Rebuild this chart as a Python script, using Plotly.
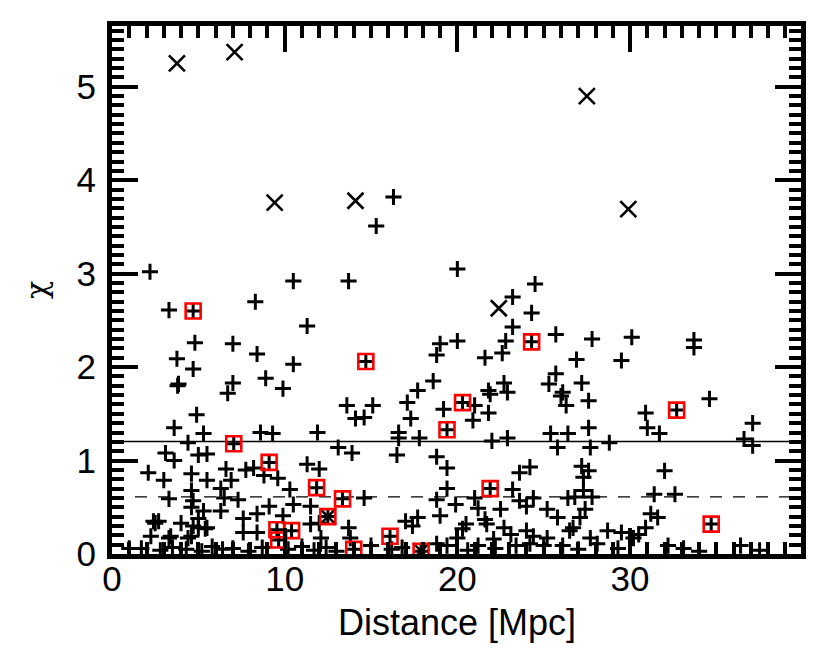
import plotly.graph_objects as go

# "+" markers (Distance [Mpc], chi)
plus_x = [2.2, 3.3, 8.3, 10.5, 11.3, 13.7, 15.3, 16.3, 20.0, 24.5, 23.2, 24.3, 23.2, 25.7,
          4.8, 7.0, 8.4, 3.76, 4.7, 10.5, 3.8, 3.85, 7.0, 6.7, 8.9, 9.9,
          19.0, 20.0, 18.8, 21.6, 22.6, 22.8, 18.6, 17.7, 21.8, 22.7, 25.7, 25.3, 26.1,
          27.8, 30.1, 33.7, 33.7, 26.9, 29.5, 27.2,
          4.9, 3.6, 5.3, 8.6, 9.3, 11.9, 4.4, 13.1, 3.1, 3.6, 5.0, 5.5,
          13.6, 14.1, 14.6, 15.1, 17.1, 17.3, 19.2, 21.0, 21.8, 20.9, 21.9, 22.9, 26.0, 26.3,
          16.6, 16.6, 17.8, 22.0, 22.9, 25.4, 26.4, 25.8, 13.9, 16.5, 18.8,
          27.6, 34.6, 30.9, 31.0, 31.7, 27.6, 28.8, 27.7, 37.1, 36.6, 37.1,
          2.1, 3.0, 4.6, 5.5, 6.6, 6.9, 7.75, 8.2, 8.8, 9.6, 11.3, 12.0, 10.3, 4.6, 6.3,
          19.4, 23.6, 24.2, 19.4, 23.2,
          32.0, 27.2, 27.6, 27.3, 31.4, 32.6, 27.8, 26.8, 27.3,
          3.3, 4.7, 6.5, 7.3, 9.1, 10.5, 11.5, 4.6, 5.3, 6.3, 8.4, 9.9, 7.6, 2.7, 4.0, 5.0, 11.5, 12.0, 2.4, 2.5,
          14.6, 18.8, 19.9, 21.0, 21.2, 22.5, 23.6, 24.0, 24.4, 25.2, 25.8, 26.4, 19.0, 17.0, 17.7, 20.5, 21.6, 21.7,
          27.4, 27.1, 31.2, 31.6,
          5.5, 2.25, 3.3, 4.4, 5.0, 8.4, 7.6, 12.1, 3.4, 4.6, 4.7, 5.4,
          17.4, 20.3, 22.7, 23.1, 24.0, 24.4, 25.2, 26.5, 13.7, 13.8, 20.0, 22.1,
          30.9, 30.5, 28.7, 29.5, 26.7, 27.7, 28.1, 30.2,
          1.0, 1.7, 2.8, 3.5, 4.3, 5.2, 5.8, 6.4, 7.0, 7.9, 8.7, 10.2, 11.0, 11.7, 12.4, 13.0,
          15.0, 16.2, 16.8, 18.8, 19.4, 20.6, 21.2, 22.2, 23.4, 24.2, 25.0, 26.1, 27.0, 29.3,
          32.2, 33.1, 36.4, 34.0, 37.5]
plus_y = [3.02, 2.61, 2.70, 2.92, 2.44, 2.92, 3.51, 3.82, 3.05, 2.89, 2.75, 2.58, 2.43, 2.35,
          2.26, 2.25, 2.14, 2.09, 1.98, 2.03, 1.80, 1.82, 1.83, 1.72, 1.88, 1.77,
          2.25, 2.28, 2.13, 2.10, 2.15, 2.28, 1.85, 1.75, 1.75, 1.83, 1.93, 1.82, 1.73,
          2.30, 2.32, 2.29, 2.21, 2.08, 2.07, 1.83,
          1.49, 1.35, 1.29, 1.30, 1.29, 1.30, 1.19, 1.14, 1.08, 1.00, 1.06, 1.07,
          1.59, 1.45, 1.46, 1.59, 1.62, 1.45, 1.55, 1.59, 1.51, 1.43, 1.71, 1.73, 1.69, 1.59,
          1.30, 1.24, 1.24, 1.21, 1.24, 1.29, 1.29, 1.14, 1.08, 1.06, 1.04,
          1.64, 1.66, 1.51, 1.35, 1.29, 1.35, 1.19, 1.14, 1.40, 1.23, 1.16,
          0.87, 0.79, 0.86, 0.79, 0.91, 0.79, 0.90, 0.92, 0.84, 0.81, 0.96, 0.91, 0.69, 0.68, 0.70,
          0.92, 0.87, 0.93, 0.70, 0.69,
          0.89, 0.94, 0.89, 0.82, 0.64, 0.64, 0.61, 0.61, 0.68,
          0.59, 0.57, 0.60, 0.58, 0.51, 0.53, 0.51, 0.50, 0.46, 0.46, 0.43, 0.41, 0.38, 0.35, 0.33, 0.38, 0.32, 0.33, 0.35, 0.33,
          0.60, 0.58, 0.53, 0.60, 0.49, 0.48, 0.57, 0.51, 0.60, 0.48, 0.39, 0.60, 0.41, 0.35, 0.39, 0.32, 0.37, 0.32,
          0.48, 0.39, 0.43, 0.39,
          0.28, 0.19, 0.17, 0.17, 0.28, 0.23, 0.23, 0.17, 0.19, 0.19, 0.30, 0.27,
          0.30, 0.27, 0.28, 0.21, 0.25, 0.19, 0.17, 0.25, 0.28, 0.17, 0.17, 0.16,
          0.28, 0.21, 0.25, 0.23, 0.28, 0.17, 0.11, 0.17,
          0.06, 0.06, 0.04, 0.07, 0.05, 0.03, 0.08, 0.05, 0.06, 0.03, 0.07, 0.05, 0.08, 0.04, 0.07, 0.03,
          0.09, 0.05, 0.07, 0.11, 0.09, 0.04, 0.09, 0.06, 0.09, 0.11, 0.09, 0.09, 0.05, 0.06,
          0.09, 0.06, 0.09, 0.03, 0.04]

# highlighted sources (red boxes, each also a "+" point)
red_x = [4.7, 14.7, 24.3, 20.3, 19.4, 32.7, 7.05, 9.1, 11.85, 21.9, 13.35, 12.5,
         9.55, 10.4, 9.65, 16.1, 34.7, 14.0, 17.9]
red_y = [2.60, 2.06, 2.27, 1.62, 1.33, 1.54, 1.18, 0.98, 0.71, 0.70, 0.59, 0.40,
         0.26, 0.25, 0.15, 0.19, 0.32, 0.05, 0.03]

# "x" markers
cross_x = [3.76, 7.1, 9.42, 14.1, 27.5, 29.9, 22.4, 12.5, 17.9]
cross_y = [5.25, 5.37, 3.76, 3.78, 4.90, 3.69, 2.63, 0.40, 0.03]

# horizontal reference levels
level_solid = [1.204]
level_dashed = [0.611]

x_range = [0, 39.9]
y_range = [0, 5.65]
x_ticks = [0, 10, 20, 30]
y_ticks = [0, 1, 2, 3, 4, 5]
x_title = "Distance [Mpc]"
y_title = "χ"

fig = go.Figure()

for lv in level_solid:
    fig.add_trace(go.Scatter(x=x_range, y=[lv, lv], mode="lines",
                             line=dict(color="black", width=1.3), hoverinfo="skip"))
for lv in level_dashed:
    fig.add_trace(go.Scatter(x=x_range, y=[lv, lv], mode="lines",
                             line=dict(color="black", width=1.3, dash="12px,11px"), hoverinfo="skip"))

fig.add_trace(go.Scatter(x=plus_x + red_x, y=plus_y + red_y, mode="markers",
                         marker=dict(symbol="cross-thin", size=11.5,
                                     line=dict(color="black", width=3))))
fig.add_trace(go.Scatter(x=cross_x, y=cross_y, mode="markers",
                         marker=dict(symbol="x-thin", size=16,
                                     line=dict(color="black", width=2.6))))
fig.add_trace(go.Scatter(x=red_x, y=red_y, mode="markers",
                         marker=dict(symbol="square-open", size=15, color="#ff0000",
                                     line=dict(color="#ff0000", width=2.6))))

font_family = "Liberation Sans, Arial, sans-serif"
axis_common = dict(
    showgrid=False, zeroline=False, showline=True, linecolor="black", linewidth=5,
    mirror="ticks", ticks="inside", tickcolor="black", tickwidth=4,
    tickfont=dict(family=font_family, size=35, color="black"),
)

fig.update_xaxes(range=x_range, tickvals=x_ticks, ticklen=26, ticklabelstandoff=-10,
                 minor=dict(dtick=1, ticklen=12, tickwidth=4, ticks="inside", tickcolor="black"),
                 **axis_common)
fig.update_yaxes(range=y_range, tickvals=y_ticks, ticklen=26, ticklabelstandoff=4,
                 minor=dict(dtick=0.1, ticklen=12, tickwidth=4, ticks="inside", tickcolor="black"),
                 title=dict(text=y_title, standoff=22,
                            font=dict(family="DejaVu Serif, serif", size=30, color="black")),
                 **axis_common)

fig.add_annotation(text=x_title, xref="paper", yref="paper", x=0.5, y=0,
                   xanchor="center", yanchor="middle", yshift=-68, showarrow=False,
                   font=dict(family=font_family, size=36, color="black"))

fig.update_layout(
    width=823, height=656, showlegend=False,
    plot_bgcolor="white", paper_bgcolor="white",
    margin=dict(l=104, r=30, t=18, b=110),
)

fig.write_html("out.html")
